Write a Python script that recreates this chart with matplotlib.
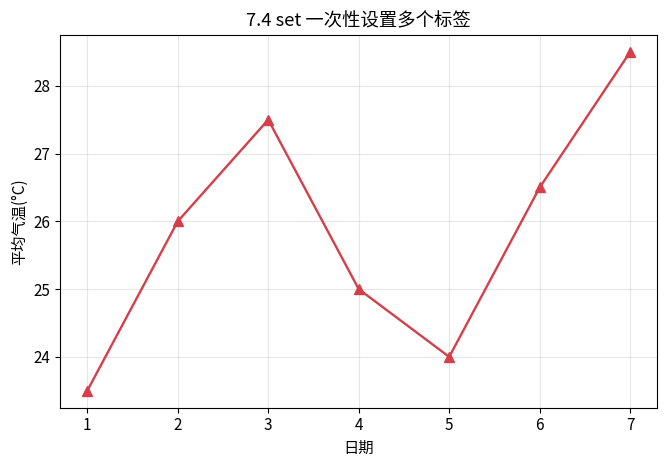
import matplotlib
matplotlib.use('Agg')
import matplotlib.pyplot as plt

plt.rcParams['font.family'] = ['Noto Sans CJK SC', 'DejaVu Sans']
plt.rcParams['font.size'] = 11
plt.rcParams['axes.unicode_minus'] = False

days = [1, 2, 3, 4, 5, 6, 7]
temps = [23.5, 26.0, 27.5, 25.0, 24.0, 26.5, 28.5]

fig, ax = plt.subplots(figsize=(6.68, 4.67), dpi=100)
ax.plot(days, temps, color='#d43f4a', marker='^', markersize=7.5, linewidth=1.7)
ax.set(title='7.4 set 一次性设置多个标签', xlabel='日期', ylabel='平均气温(°C)')
ax.grid(True, alpha=0.3)
fig.subplots_adjust(left=0.09, right=0.984, top=0.925, bottom=0.127)
fig.savefig('out.png', dpi=100)
